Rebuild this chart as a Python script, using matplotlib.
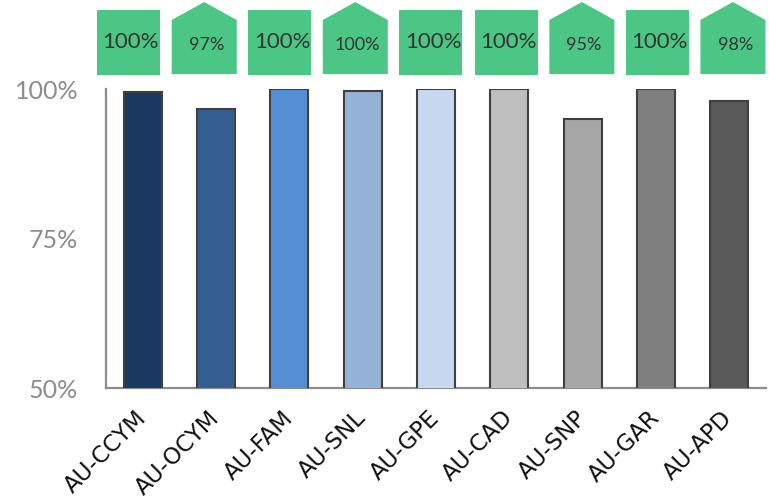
import numpy as np
import matplotlib
matplotlib.use('Agg')
import matplotlib.pyplot as plt
import matplotlib.transforms as transforms
from matplotlib.patches import Polygon

plt.rcParams['font.family'] = ['Lato', 'DejaVu Sans']

# data
sites = ['AU-CCYM', 'AU-OCYM', 'AU-FAM', 'AU-SNL', 'AU-GPE', 'AU-CAD', 'AU-SNP', 'AU-GAR', 'AU-APD']
coverage = [0.995, 0.966, 1.0, 0.997, 1.0, 1.0, 0.95, 1.0, 0.98]
badge_shape = ['box', 'house', 'box', 'house', 'box', 'box', 'house', 'box', 'house']
bar_colors = ['#1b3961', '#355f93', '#558ed5', '#95b3d7', '#c6d9f1',
              '#bfbfbf', '#a6a6a6', '#7f7f7f', '#595959']
green = '#4cc684'

fig = plt.figure(figsize=(7.69, 5.03), dpi=100)
ax = fig.add_axes([0.1378, 0.2286, 0.8582, 0.5944])

x = np.arange(len(sites))
ax.bar(x, coverage, width=0.52, bottom=0, color=bar_colors,
       edgecolor='#404040', linewidth=1.5, zorder=3)

ax.set_xlim(-0.5, len(sites) - 0.5)
ax.set_ylim(0.5, 1.0)
ax.set_yticks([0.5, 0.75, 1.0])
ax.set_yticklabels(['50%', '75%', '100%'])
ax.tick_params(axis='y', length=0, pad=20, labelsize=18, labelcolor='#8c8c8c')
ax.set_xticks(x)
ax.set_xticklabels(sites, rotation=45, ha='right', va='center',
                   rotation_mode='anchor', fontsize=16.5, color='#111111',
                   family='DejaVu Sans')
ax.tick_params(axis='x', length=0, pad=19)

for s in ['top', 'right']:
    ax.spines[s].set_visible(False)
for s in ['left', 'bottom']:
    ax.spines[s].set_color('#8c8c8c')
    ax.spines[s].set_linewidth(1.6)

# green badges above the bars
tr = transforms.blended_transform_factory(ax.transData, ax.transAxes)
for i, (v, shape) in enumerate(zip(coverage, badge_shape)):
    cx = i * 1.03 - 0.19
    label = '{:.0f}%'.format(v * 100)
    if shape == 'box':
        w = 0.86
        pts = [(cx - w / 2, 1.047), (cx + w / 2, 1.047),
               (cx + w / 2, 1.264), (cx - w / 2, 1.264)]
        ty, fs = 1.157, 16
    else:
        w = 0.887
        pts = [(cx - w / 2, 1.050), (cx + w / 2, 1.050), (cx + w / 2, 1.231),
               (cx, 1.291), (cx - w / 2, 1.231)]
        ty, fs = 1.147, 13
    ax.add_patch(Polygon(pts, closed=True, transform=tr, facecolor=green,
                         edgecolor='none', clip_on=False))
    ax.text(cx + 0.03, ty, label, transform=tr, ha='center', va='center',
            fontsize=fs, color='#333333', clip_on=False)

fig.savefig('out.png', dpi=100)
